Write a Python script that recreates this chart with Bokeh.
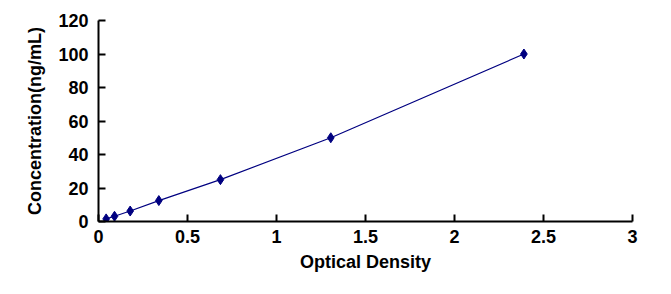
from bokeh.plotting import figure
from bokeh.models import FixedTicker, Range1d
from bokeh.embed import file_html
from bokeh.resources import INLINE

od = [0.043, 0.09, 0.178, 0.339, 0.685, 1.305, 2.39]
conc = [1.56, 3.12, 6.25, 12.5, 25, 50, 100]
x_ticks = [0, 0.5, 1, 1.5, 2, 2.5, 3]
x_tick_labels = ["0", "0.5", "1", "1.5", "2", "2.5", "3"]
y_ticks = [0, 20, 40, 60, 80, 100, 120]
y_tick_labels = ["0", "20", "40", "60", "80", "100", "120"]

FONT = "Liberation Sans"
NAVY = "#000080"

p = figure(width=671, height=294, output_backend="svg", toolbar_location=None,
           x_range=Range1d(0, 3), y_range=Range1d(0, 120),
           min_border_left=98, min_border_right=39, min_border_top=20, min_border_bottom=73)
p.outline_line_color = None
p.xgrid.grid_line_color = None
p.ygrid.grid_line_color = None
p.background_fill_color = "white"
p.border_fill_color = "white"

p.line(od, conc, line_color=NAVY, line_width=1.2)
p.scatter(od, conc, marker="diamond", size=10, fill_color=NAVY, line_color=NAVY)

for ax, ticks, labels in ((p.xaxis[0], x_ticks, x_tick_labels), (p.yaxis[0], y_ticks, y_tick_labels)):
    ax.ticker = FixedTicker(ticks=ticks)
    ax.major_label_overrides = {t: l for t, l in zip(ticks, labels)}
    ax.minor_tick_line_color = None
    ax.major_tick_in = 7
    ax.major_tick_out = 0
    ax.major_tick_line_width = 2
    ax.axis_line_width = 2
    ax.axis_line_color = "black"
    ax.major_tick_line_color = "black"
    ax.major_label_text_font = FONT
    ax.major_label_text_font_style = "bold"
    ax.major_label_text_font_size = "18px"
    ax.major_label_text_color = "black"
    ax.axis_label_text_font = FONT
    ax.axis_label_text_font_style = "bold"
    ax.axis_label_text_font_size = "18px"
    ax.axis_label_text_color = "black"

p.xaxis[0].axis_label = "Optical Density"
p.yaxis[0].axis_label = "Concentration(ng/mL)"
p.xaxis[0].major_label_standoff = 8
p.yaxis[0].major_label_standoff = 10
p.xaxis[0].axis_label_standoff = 6
p.yaxis[0].axis_label_standoff = 10

open("out.html", "w").write(file_html(p, INLINE))
